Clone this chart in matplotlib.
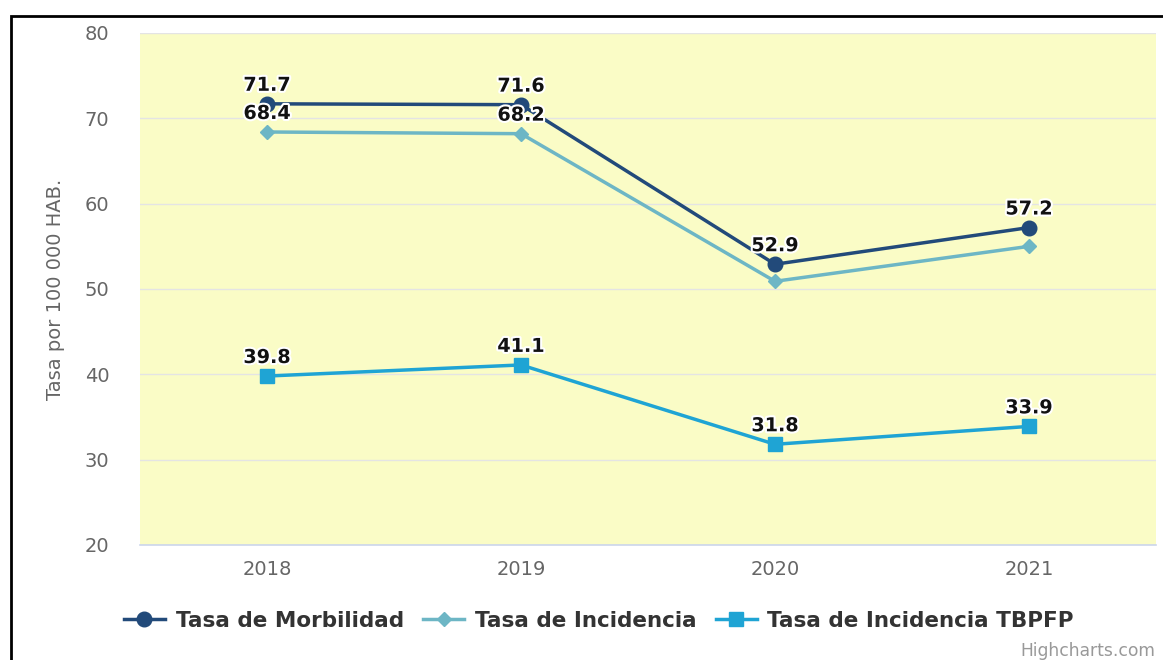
import matplotlib.pyplot as plt
import matplotlib.patheffects as pe
from matplotlib.patches import Rectangle

# Chart data
years = ["2018", "2019", "2020", "2021"]
morbilidad = [71.7, 71.6, 52.9, 57.2]
incidencia = [68.4, 68.2, 50.9, 55.0]
tbpfp = [39.8, 41.1, 31.8, 33.9]
# which points carry a data label (Highcharts hides overlapping ones)
incidencia_labels = [True, True, False, False]

y_ticks = [20, 30, 40, 50, 60, 70, 80]

plt.rcParams['font.family'] = ['DejaVu Sans']

fig = plt.figure(figsize=(11.63, 6.6), dpi=100)
ax = fig.add_axes([140 / 1163, 1 - 545 / 660, 1016 / 1163, 512 / 660])
ax.set_facecolor('#fafcc6')

x = list(range(len(years)))

series = [
    ("Tasa de Morbilidad", morbilidad, '#224a7a', 'o', 10.5, [True] * 4),
    ("Tasa de Incidencia", incidencia, '#6db6c5', 'D', 7.5, incidencia_labels),
    ("Tasa de Incidencia TBPFP", tbpfp, '#1fa4d4', 's', 10, [True] * 4),
]

for name, vals, color, marker, ms, show in series:
    ax.plot(x, vals, color=color, lw=2.5, marker=marker, markersize=ms,
            label=name, zorder=3)
    for xi, v, s in zip(x, vals, show):
        if not s:
            continue
        ax.annotate(f"{v:.1f}", (xi, v), xytext=(0, 6.5), textcoords='offset points',
                    ha='center', va='bottom', fontsize=13.8, fontweight='bold',
                    color='#111111', zorder=5,
                    path_effects=[pe.withStroke(linewidth=3, foreground='white')])

ax.set_xlim(-0.5, 3.5)
ax.set_ylim(20, 80)
ax.set_yticks(y_ticks)
ax.set_xticks(x)
ax.set_xticklabels(years)
ax.grid(axis='y', color='#e4e4e4', lw=1, zorder=0)
ax.set_axisbelow(True)
ax.tick_params(axis='both', length=0, labelsize=14, labelcolor='#666666')
ax.tick_params(axis='y', pad=22)
ax.tick_params(axis='x', pad=11)
for side in ['top', 'right', 'left']:
    ax.spines[side].set_visible(False)
ax.spines['bottom'].set_color('#ccd6eb')
ax.spines['bottom'].set_linewidth(1.2)

ax.set_ylabel("Tasa por 100 000 HAB.", fontsize=14, color='#666666', labelpad=14)

leg = fig.legend(loc='center', bbox_to_anchor=(599 / 1163, 1 - 621 / 660), ncol=3,
                 frameon=False, prop={'weight': 'bold', 'size': 15.5},
                 handlelength=1.9, columnspacing=0.9, handletextpad=0.5)
for t in leg.get_texts():
    t.set_color('#333333')

fig.text(1155 / 1163, 1 - 651 / 660, "Highcharts.com", ha='right', va='center',
         fontsize=12.3, color='#999999')

# outer black frame (open to right/bottom edges)
fig.patches.append(Rectangle((11 / 1163, -0.05), 1.2, 1 - 16 / 660 + 0.05,
                             transform=fig.transFigure, fill=False,
                             edgecolor='black', lw=2, zorder=10))

fig.savefig("out.png", dpi=100)
